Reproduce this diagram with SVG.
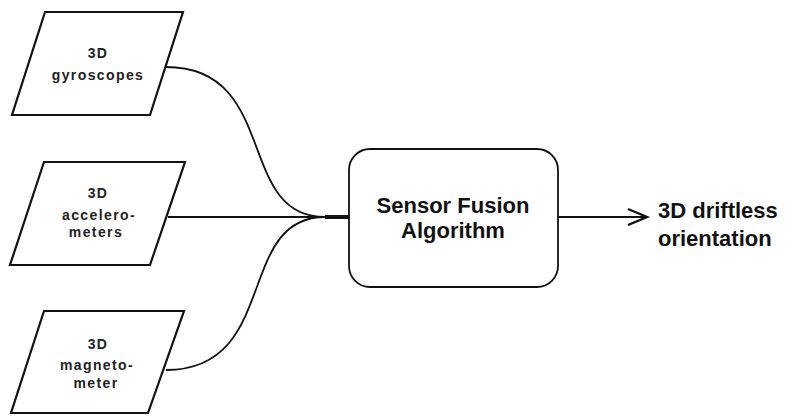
<svg xmlns="http://www.w3.org/2000/svg" width="785" height="416" viewBox="0 0 785 416">
<defs>
<style>
.io{fill:#fff;stroke:#111;stroke-width:2.2;stroke-linejoin:miter}
.box{fill:#fff;stroke:#111;stroke-width:1.8}
.small{font-family:"Liberation Sans",Arial,sans-serif;font-weight:bold;font-size:14px;letter-spacing:1.4px;fill:#222;text-anchor:middle}
.big{font-family:"Liberation Sans",Arial,sans-serif;font-weight:bold;font-size:22px;fill:#111;text-anchor:middle}
.big-left{font-family:"Liberation Sans",Arial,sans-serif;font-weight:bold;font-size:22px;fill:#111}
.conn{fill:none;stroke:#111;stroke-width:1.8}
</style>
</defs>
<rect width="785" height="416" fill="#fff"/>
<g id="connectors">
<path class="conn" d="M166,67 C280,67 235,217 325,217"/>
<path class="conn" d="M168,217 L325,217"/>
<path class="conn" d="M166,370 C280,370 235,217 325,217"/>
<path d="M325,217 L349,217" stroke="#111" stroke-width="4" fill="none"/>
<path class="conn" d="M558,217 L646,217"/>
<path d="M628,209 L647,217 L628,225" fill="none" stroke="#111" stroke-width="2.4" stroke-linejoin="miter"/>
</g>
<g id="gyroscopes">
<polygon class="io" points="45,12 183,12 150,115 12,115"/>
<text class="small" x="98" y="58">3D</text>
<text class="small" x="98" y="80">gyroscopes</text>
</g>
<g id="accelerometers">
<polygon class="io" points="44,162 185,162 150,265 10,265"/>
<text class="small" x="98" y="198">3D</text>
<text class="small" x="99" y="220">accelero-</text>
<text class="small" x="96" y="237">meters</text>
</g>
<g id="magnetometer">
<polygon class="io" points="44,311 184,311 148,413 11,413"/>
<text class="small" x="98" y="349">3D</text>
<text class="small" x="97" y="370">magneto-</text>
<text class="small" x="96" y="388">meter</text>
</g>
<g id="fusion">
<rect class="box" x="349" y="149" width="209" height="138" rx="21" ry="21"/>
<text class="big" x="453" y="213">Sensor Fusion</text>
<text class="big" x="453" y="238">Algorithm</text>
</g>
<g id="output">
<text class="big-left" x="658" y="218">3D driftless</text>
<text class="big-left" x="658" y="246">orientation</text>
</g>
</svg>
